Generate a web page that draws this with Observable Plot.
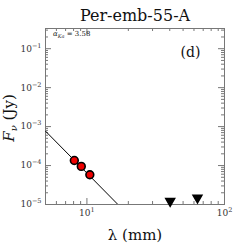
<!DOCTYPE html>
<html><head><meta charset="utf-8">
<script src="https://cdn.jsdelivr.net/npm/d3@7"></script>
<script src="https://cdn.jsdelivr.net/npm/@observablehq/plot@0.6"></script>
<style>
body{margin:0;background:#fff}
</style>
</head><body><div id="chart"></div>
<script>
const title = "Per-emb-55-A";
const panelTag = "(d)";
const kaWavelength = [8.1, 9.1, 10.5];
const kaFlux = [1.35e-4, 9.5e-5, 5.8e-5];
const limitWavelength = [40.3, 63.6];
const limitFlux = [1.22e-5, 1.49e-5];
const fitWavelength = [5, 16.8];
const fitFlux = [7.66e-4, 1.0e-5];
const alphaKa = "3.58";
const xMajor = [10, 100];
const xMinor = [5, 6, 7, 8, 9, 20, 30, 40, 50, 60, 70, 80, 90];
const yMajor = [1e-5, 1e-4, 1e-3, 1e-2, 1e-1];
const yMinorMult = [2, 3, 4, 5, 6, 7, 8, 9];

const yMinor = [];
for (const d of yMajor) for (const m of yMinorMult) if (d * m < 0.33) yMinor.push(d * m);

const expOf = d => Math.round(Math.log10(d));
const pow = d => "10^" + expOf(d);

const W = 249, H = 249, mL = 45, mR = 25, mT = 28, mB = 45;
const fw = W - mL - mR, fh = H - mT - mB;
const ax = "#777";
const serif = "'DejaVu Serif', serif";

const kaData = kaWavelength.map((x, i) => ({x, y: kaFlux[i]}));
const limData = limitWavelength.map((x, i) => ({x, y: limitFlux[i]}));
const fitData = fitWavelength.map((x, i) => ({x, y: fitFlux[i]}));

const chart = Plot.plot({
  width: W, height: H,
  marginLeft: mL, marginRight: mR, marginTop: mT, marginBottom: mB,
  style: {background: "#fff", fontFamily: serif},
  x: {type: "log", domain: [5, 100], axis: null},
  y: {type: "log", domain: [1e-5, 0.33], axis: null},
  marks: [
    Plot.ruleX(xMajor, {x: d => d, insetTop: fh - 6, stroke: ax}),
    Plot.ruleX(xMajor, {x: d => d, insetBottom: fh - 6, stroke: ax}),
    Plot.ruleX(xMinor, {x: d => d, insetTop: fh - 3, stroke: ax}),
    Plot.ruleX(xMinor, {x: d => d, insetBottom: fh - 3, stroke: ax}),
    Plot.ruleY(yMajor, {y: d => d, insetRight: fw - 6, stroke: ax}),
    Plot.ruleY(yMajor, {y: d => d, insetLeft: fw - 6, stroke: ax}),
    Plot.ruleY(yMinor, {y: d => d, insetRight: fw - 3, stroke: ax}),
    Plot.ruleY(yMinor, {y: d => d, insetLeft: fw - 3, stroke: ax}),
    Plot.frame({stroke: ax}),
    Plot.axisX(xMajor, {anchor: "bottom", tickSize: 0, tickPadding: 5, tickFormat: pow, fontSize: 9, label: null, fill: "#333"}),
    Plot.axisY(yMajor, {anchor: "left", tickSize: 0, tickPadding: 4, tickFormat: pow, fontSize: 9, label: null, fill: "#333"}),
    Plot.line(fitData, {x: "x", y: "y", stroke: "#000", strokeWidth: 1, clip: true}),
    Plot.dot(kaData, {x: "x", y: "y", r: 3.9, fill: "#e00", stroke: "#000", strokeWidth: 1.6}),
    Plot.dot(limData, {x: "x", y: "y", symbol: "triangle", rotate: 180, r: 3.3, fill: "#000", stroke: "#000"}),
    Plot.text([title], {frameAnchor: "top", lineAnchor: "bottom", dy: -8, fontSize: 16, fill: "#111"}),
    Plot.text([panelTag], {frameAnchor: "top-right", textAnchor: "middle", dx: -34, dy: 19, fontSize: 14, fill: "#111"}),
    Plot.text(["λ (mm)"], {frameAnchor: "bottom", lineAnchor: "middle", dy: 31, fontSize: 15, fill: "#111"})
  ]
});
document.getElementById("chart").appendChild(chart);

const svg = d3.select(chart);
// rebuild power-of-ten tick labels with real superscripts
svg.selectAll('g[aria-label$="tick label"] text').each(function () {
  const s = this.textContent;
  const m = /^10\^(-?\d+)$/.exec(s);
  if (!m) return;
  const el = d3.select(this);
  el.text(null);
  el.append("tspan").text("10");
  el.append("tspan").attr("font-size", 6.5).attr("dy", -4).text(m[1].replace("-", "−"));
});
const yl = svg.append("text")
  .attr("transform", `translate(10,${mT + fh / 2 + 2}) rotate(-90)`)
  .attr("text-anchor", "middle").attr("dominant-baseline", "middle")
  .attr("font-size", 15).attr("fill", "#111");
yl.append("tspan").attr("font-style", "italic").text("F");
yl.append("tspan").attr("font-style", "italic").attr("font-size", 10).attr("dy", 4).text("ν");
yl.append("tspan").attr("dy", -4).text(" (Jy)");
const al = svg.append("text")
  .attr("x", mL + 8).attr("y", mT + 8).attr("text-anchor", "start")
  .attr("font-size", 7).attr("fill", "#222");
al.append("tspan").attr("font-style", "italic").text("α");
al.append("tspan").attr("font-style", "italic").attr("font-size", 5).attr("dy", 1.5).text("Ka");
al.append("tspan").attr("dy", -1.5).text(" = " + alphaKa);
svg.selectAll("text").style("font-family", serif);
</script>
</body></html>
